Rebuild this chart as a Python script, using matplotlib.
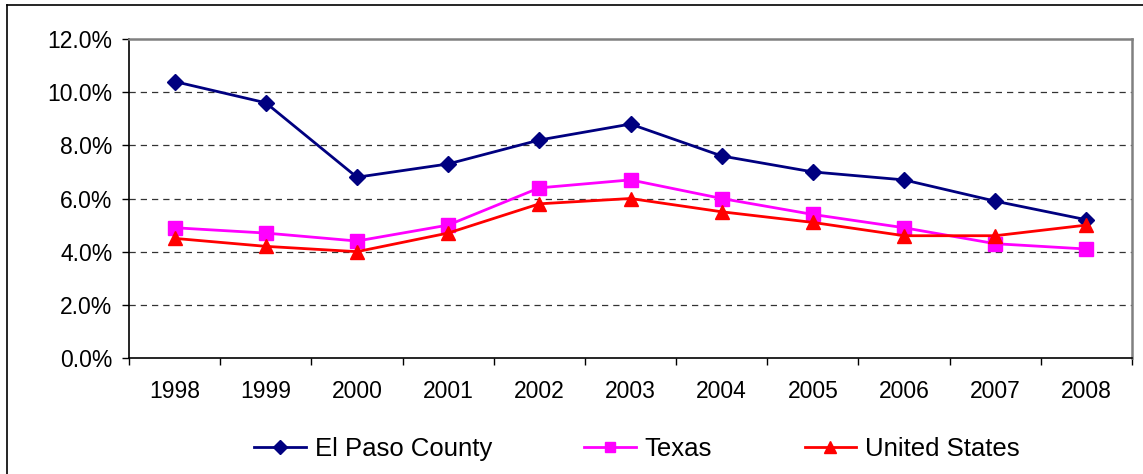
import matplotlib
matplotlib.use("Agg")
import matplotlib.pyplot as plt
from matplotlib.lines import Line2D
from matplotlib.ticker import FixedLocator, FuncFormatter

# unemployment rate, percent
years = ["1998", "1999", "2000", "2001", "2002", "2003",
         "2004", "2005", "2006", "2007", "2008"]
el_paso = [10.4, 9.6, 6.8, 7.3, 8.2, 8.8, 7.6, 7.0, 6.7, 5.9, 5.2]
texas = [4.9, 4.7, 4.4, 5.0, 6.4, 6.7, 6.0, 5.4, 4.9, 4.3, 4.1]
united_states = [4.5, 4.2, 4.0, 4.7, 5.8, 6.0, 5.5, 5.1, 4.6, 4.6, 5.0]

plt.rcParams['font.family'] = ['Liberation Sans', 'DejaVu Sans']

W, H = 1143, 474
fig = plt.figure(figsize=(W / 100, H / 100), dpi=100)
ax = fig.add_axes([129 / W, 1 - 358 / H, (1132 - 129) / W, (358 - 39) / H])

x = list(range(len(years)))
ax.plot(x, el_paso, color="#000080", lw=2.0, marker="D", ms=8.5, label="El Paso County")
ax.plot(x, texas, color="#FF00FF", lw=2.0, marker="s", ms=9.5, label="Texas")
ax.plot(x, united_states, color="#FF0000", lw=2.0, marker="^", ms=10.5, label="United States")

ax.set_xlim(-0.5, len(years) - 0.5)
ax.set_ylim(0, 12)

# y axis
ax.set_yticks([0, 2, 4, 6, 8, 10, 12])
ax.yaxis.set_major_formatter(FuncFormatter(lambda v, p: "%.1f%%" % v))
for yv in [2, 4, 6, 8, 10]:
    ax.axhline(yv, color="#333333", lw=0.9, dashes=(5, 4), zorder=0)

# x axis: labels in the middle, ticks on category boundaries
ax.xaxis.set_major_locator(FixedLocator([i - 0.5 for i in range(len(years) + 1)]))
ax.xaxis.set_major_formatter(FuncFormatter(lambda v, p: ""))
ax.xaxis.set_minor_locator(FixedLocator(x))
ax.set_xticklabels(years, minor=True)
ax.tick_params(axis="x", which="minor", length=0, pad=16, labelsize=16.5)
ax.tick_params(axis="x", which="major", length=5, width=1, direction="out")
ax.tick_params(axis="y", length=5, width=1, direction="out", pad=7, labelsize=16.5)

for s in ["left", "bottom"]:
    ax.spines[s].set_color("black")
    ax.spines[s].set_linewidth(1.2)
for s in ["top", "right"]:
    ax.spines[s].set_color("#808080")
    ax.spines[s].set_linewidth(1.8)

leg = fig.legend(loc="center", bbox_to_anchor=(637 / W, 1 - 449 / H), ncol=3,
                 frameon=False, fontsize=18.5, handlelength=2.0,
                 handletextpad=0.35, columnspacing=3.6, markerscale=0.8)

# outer chart border (only top and left visible)
fig.add_artist(Line2D([7 / W, 1], [1 - 5 / H, 1 - 5 / H], color="black", lw=1.2,
                      transform=fig.transFigure))
fig.add_artist(Line2D([7 / W, 7 / W], [0, 1 - 5 / H], color="black", lw=1.2,
                      transform=fig.transFigure))

fig.savefig("out.png", dpi=100)
